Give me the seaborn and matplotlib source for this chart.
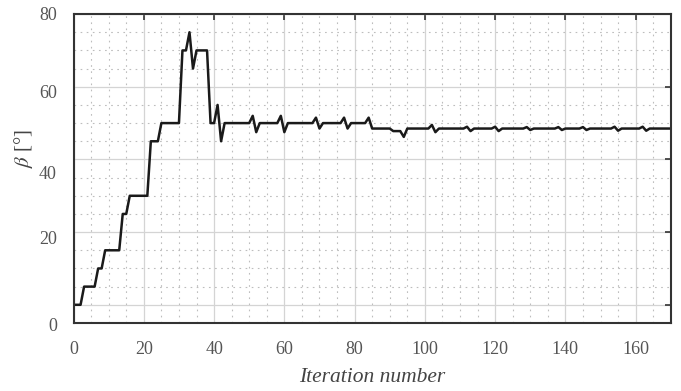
import numpy as np
import pandas as pd
import seaborn as sns
import matplotlib
matplotlib.use("Agg")
import matplotlib.pyplot as plt
from matplotlib.ticker import MultipleLocator

# breakpoints of the beta history (iteration, beta in degrees)
iters = [0, 2, 3, 6, 7, 8, 9, 13, 14, 15, 16, 21, 22, 24, 25, 30, 31, 32, 33, 34,
         35, 38, 39, 40, 41, 42, 43, 50, 51, 52, 53, 58, 59, 60, 61, 68, 69, 70, 71,
         76, 77, 78, 79, 83, 84, 85, 90, 91, 93, 94, 95, 101, 102, 103, 104, 111,
         112, 113, 114, 119, 120, 121, 122, 128, 129, 130, 131, 137, 138, 139, 140,
         144, 145, 146, 147, 153, 154, 155, 156, 161, 162, 163, 164, 170]
beta = [0, 0, 5, 5, 10, 10, 15, 15, 25, 25, 30, 30, 45, 45, 50, 50, 70, 70, 75, 65,
        70, 70, 50, 50, 55, 45, 50, 50, 52, 47.5, 50, 50, 52, 47.5, 50, 50, 51.5, 48.5, 50,
        50, 51.5, 48.5, 50, 50, 51.5, 48.5, 48.5, 47.8, 47.8, 46.2, 48.5, 48.5, 49.5, 47.5, 48.5, 48.5,
        49, 47.8, 48.5, 48.5, 49, 47.8, 48.5, 48.5, 48.9, 48.1, 48.5, 48.5, 48.9, 48.1, 48.5,
        48.5, 48.9, 48.1, 48.5, 48.5, 49, 47.9, 48.5, 48.5, 49, 47.9, 48.5, 48.5]

ytick_vals = [0, 20, 40, 60, 80]
ytick_labels = ["0", "20", "40", "60", "80"]
# where the y labels sit in the reference (they are offset from the tick marks)
ytick_label_pos = [-6.0, 17.9, 35.9, 58.2, 79.7]

sns.set_theme(style="white")
plt.rcParams['font.family'] = ['Liberation Serif', 'DejaVu Serif']
plt.rcParams['mathtext.fontset'] = 'stix'

df = pd.DataFrame({'iteration': iters, 'beta': beta})

fig = plt.figure(figsize=(6.81, 3.91), dpi=100)
ax = fig.add_axes([0.108, 0.174, 0.877, 0.790])

ax.xaxis.set_minor_locator(MultipleLocator(5))
ax.yaxis.set_minor_locator(MultipleLocator(5))
ax.grid(which='major', color='#d4d4d4', linestyle='-', linewidth=0.9)
ax.grid(which='minor', color='#bdbdbd', linestyle=(0, (1.5, 4)), linewidth=0.8)
ax.set_axisbelow(True)

sns.lineplot(data=df, x='iteration', y='beta', color='#1a1a1a', linewidth=1.8, ax=ax)

ax.set_xlim(0, 170)
ax.set_ylim(-5, 80)
ax.set_xticks(np.arange(0, 161, 20))
ax.set_yticks(ytick_vals)
ax.set_yticklabels([])
for lab, pos in zip(ytick_labels, ytick_label_pos):
    ax.text(-0.028, pos, lab, transform=ax.get_yaxis_transform(), ha='right', va='center',
            fontsize=13, color='#555555')

ax.tick_params(which='major', direction='in', length=4, width=1.2, color='#333333',
               top=True, right=True, labelsize=13, labelcolor='#555555', pad=13)
ax.tick_params(which='minor', length=0)
for s in ax.spines.values():
    s.set_color('#333333')
    s.set_linewidth(1.5)

ax.set_xlabel('Iteration number', fontsize=15.5, style='italic', color='#444444', labelpad=7)
ax.set_ylabel(r'$\beta$ [°]', fontsize=15, color='#444444')
ax.yaxis.set_label_coords(-0.064, 0.565)

fig.savefig('out.png', dpi=100)
